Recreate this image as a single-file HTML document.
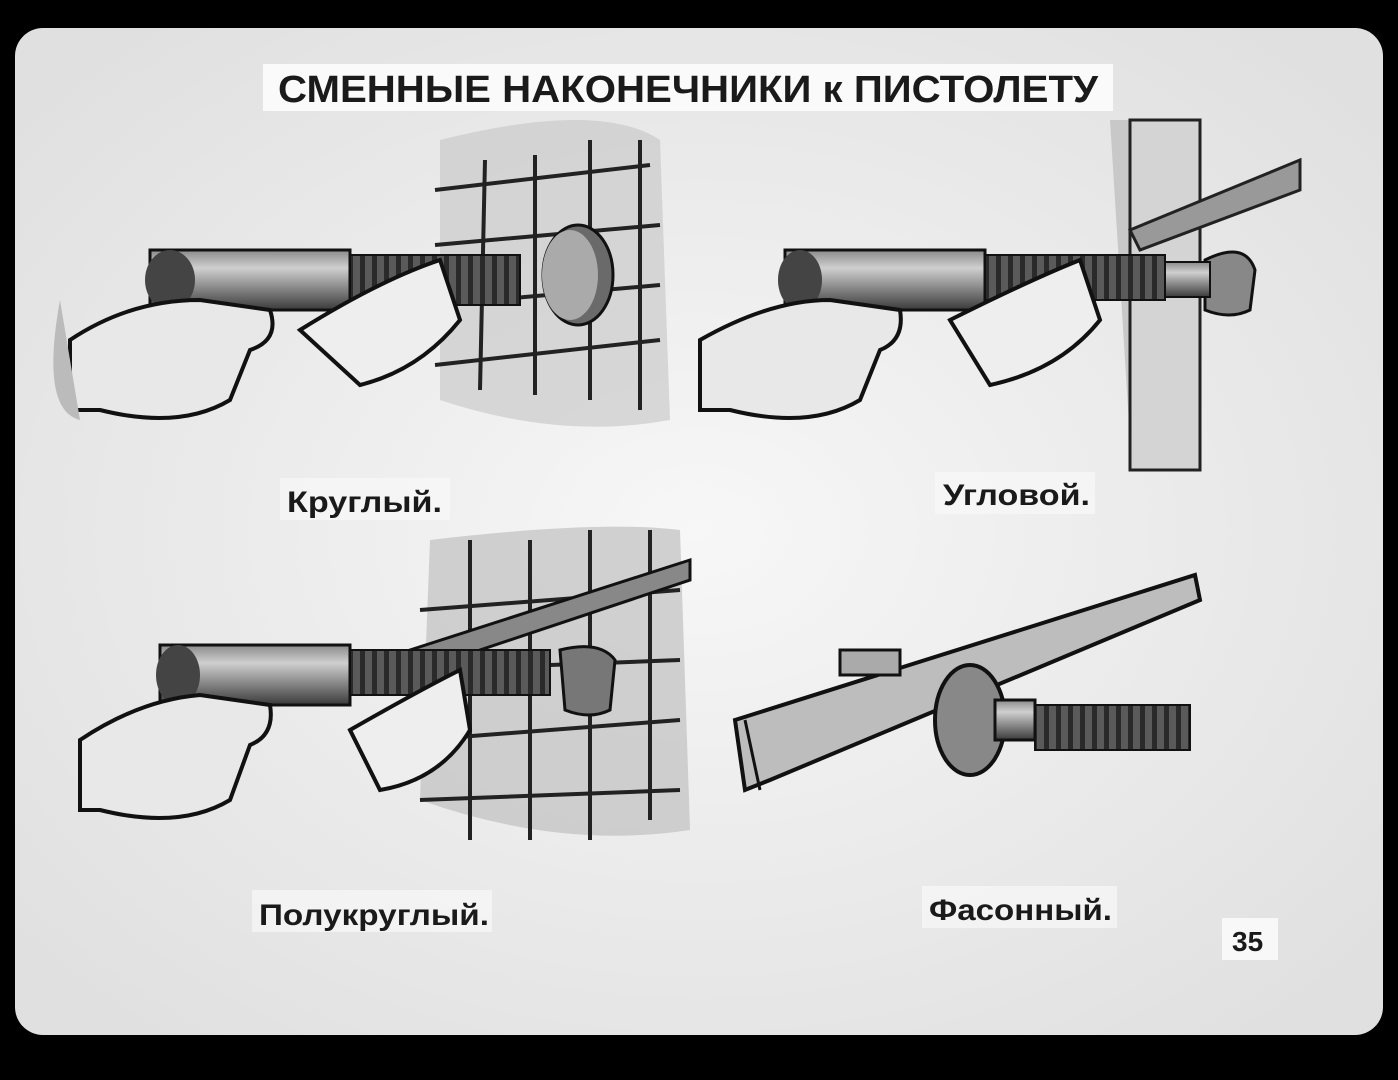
<!DOCTYPE html>
<html><head><meta charset="utf-8"><style>
html,body{margin:0;padding:0;background:#000;width:1398px;height:1080px;overflow:hidden}
svg{display:block}
text{font-family:"Liberation Sans","DejaVu Sans",sans-serif;font-weight:bold;fill:#1a1a1a}
</style></head><body>
<svg width="1398" height="1080" viewBox="0 0 1398 1080" xmlns="http://www.w3.org/2000/svg">
<defs>
<radialGradient id="bg" cx="50%" cy="50%" r="65%">
<stop offset="0" stop-color="#f7f7f7"/><stop offset="1" stop-color="#e0e0e0"/></radialGradient>
<linearGradient id="cyl" x1="0" y1="0" x2="0" y2="1">
<stop offset="0" stop-color="#8a8a8a"/><stop offset="0.3" stop-color="#cfcfcf"/><stop offset="0.7" stop-color="#7a7a7a"/><stop offset="1" stop-color="#3a3a3a"/></linearGradient>
<pattern id="coil" width="12" height="60" patternUnits="userSpaceOnUse"><rect width="12" height="60" fill="#5a5a5a"/><rect width="5" height="60" fill="#2a2a2a"/></pattern>
</defs>
<rect width="1398" height="1080" fill="#000"/>
<rect x="15" y="28" width="1368" height="1007" rx="28" fill="url(#bg)"/>
<rect x="263" y="64" width="850" height="47" fill="#fafafa"/>
<text x="688" y="102" font-size="38" text-anchor="middle" textLength="820" lengthAdjust="spacingAndGlyphs">СМЕННЫЕ НАКОНЕЧНИКИ к ПИСТОЛЕТУ</text>

<g>
<path d="M440 140 Q600 100 660 140 L670 420 Q560 440 440 400 Z" fill="#c4c4c4" opacity="0.6"/>
<g stroke="#222" stroke-width="4" fill="none">
<path d="M435 190 L650 165 M435 245 L660 225 M435 305 L660 285 M435 365 L660 340"/>
<path d="M485 160 L480 390 M535 155 L535 395 M590 140 L590 400 M640 140 L640 410"/>
</g>
<ellipse cx="578" cy="275" rx="35" ry="50" fill="#6a6a6a" stroke="#111" stroke-width="3"/>
<ellipse cx="570" cy="275" rx="28" ry="45" fill="#aaa"/>
<rect x="150" y="250" width="200" height="60" fill="url(#cyl)" stroke="#111" stroke-width="3"/>
<ellipse cx="170" cy="280" rx="25" ry="30" fill="#444"/>
<rect x="350" y="255" width="170" height="50" fill="url(#coil)" stroke="#111" stroke-width="2"/>
<path d="M70 340 Q130 300 200 300 L270 310 Q280 340 250 350 L230 400 Q180 430 100 410 L70 410 Z" fill="#e8e8e8" stroke="#111" stroke-width="4"/>
<path d="M60 300 L80 420 Q40 410 60 300" fill="#bbb"/>
<path d="M300 330 Q380 280 440 260 L460 320 Q420 370 360 385 Z" fill="#eee" stroke="#111" stroke-width="4"/>
</g>
<g>
<path d="M1110 120 L1200 120 L1200 470 L1130 440 Z" fill="#c8c8c8"/>
<rect x="1130" y="120" width="70" height="350" fill="#d4d4d4" stroke="#222" stroke-width="3"/>
<path d="M1130 230 L1300 160 L1300 190 L1140 250 Z" fill="#999" stroke="#222" stroke-width="3"/>
<path d="M1205 260 Q1245 240 1255 270 L1250 310 Q1230 320 1205 310 Z" fill="#888" stroke="#111" stroke-width="3"/>
<rect x="785" y="250" width="200" height="60" fill="url(#cyl)" stroke="#111" stroke-width="3"/>
<ellipse cx="800" cy="280" rx="22" ry="30" fill="#444"/>
<rect x="985" y="255" width="180" height="45" fill="url(#coil)" stroke="#111" stroke-width="2"/>
<rect x="1165" y="262" width="45" height="35" fill="url(#cyl)" stroke="#111" stroke-width="2"/>
<path d="M700 340 Q770 300 830 300 L900 310 Q905 340 880 350 L860 400 Q810 430 730 410 L700 410 Z" fill="#e8e8e8" stroke="#111" stroke-width="4"/>
<path d="M950 320 Q1030 280 1080 260 L1100 320 Q1060 370 990 385 Z" fill="#eee" stroke="#111" stroke-width="4"/>
</g>
<g>
<path d="M430 540 Q600 520 680 530 L690 830 Q560 850 420 800 Z" fill="#c0c0c0" opacity="0.7"/>
<g stroke="#222" stroke-width="4" fill="none">
<path d="M420 610 L680 590 M420 670 L680 660 M420 740 L680 720 M420 800 L680 790"/>
<path d="M470 540 L470 840 M530 540 L530 840 M590 530 L590 840 M650 530 L650 820"/>
</g>
<path d="M410 650 L690 560 L690 580 L420 670 Z" fill="#888" stroke="#111" stroke-width="3"/>
<path d="M560 650 Q600 640 615 660 L610 710 Q590 720 565 710 Z" fill="#777" stroke="#111" stroke-width="3"/>
<rect x="160" y="645" width="190" height="60" fill="url(#cyl)" stroke="#111" stroke-width="3"/>
<ellipse cx="178" cy="675" rx="22" ry="30" fill="#444"/>
<rect x="350" y="650" width="200" height="45" fill="url(#coil)" stroke="#111" stroke-width="2"/>
<path d="M80 740 Q140 700 200 695 L270 705 Q275 735 250 745 L230 800 Q180 830 100 810 L80 810 Z" fill="#e8e8e8" stroke="#111" stroke-width="4"/>
<path d="M350 730 Q420 690 460 670 L470 730 Q440 780 380 790 Z" fill="#eee" stroke="#111" stroke-width="4"/>
</g>
<g>
<path d="M735 720 L1195 575 L1200 600 L770 780 L745 790 Z" fill="#bdbdbd" stroke="#111" stroke-width="4"/>
<path d="M745 720 L760 790" stroke="#111" stroke-width="3"/>
<rect x="840" y="650" width="60" height="25" fill="#aaa" stroke="#111" stroke-width="3"/>
<ellipse cx="970" cy="720" rx="35" ry="55" fill="#888" stroke="#111" stroke-width="4"/>
<rect x="995" y="700" width="40" height="40" fill="url(#cyl)" stroke="#111" stroke-width="3"/>
<rect x="1035" y="705" width="155" height="45" fill="url(#coil)" stroke="#111" stroke-width="2"/>
</g>

<rect x="280" y="478" width="170" height="42" fill="#f8f8f8" opacity="0.7"/>
<text x="287" y="512" font-size="30" textLength="155" lengthAdjust="spacingAndGlyphs">Круглый.</text>
<rect x="935" y="472" width="160" height="42" fill="#f8f8f8" opacity="0.7"/>
<text x="943" y="505" font-size="30" textLength="147" lengthAdjust="spacingAndGlyphs">Угловой.</text>
<rect x="252" y="890" width="240" height="42" fill="#f8f8f8" opacity="0.7"/>
<text x="259" y="925" font-size="30" textLength="230" lengthAdjust="spacingAndGlyphs">Полукруглый.</text>
<rect x="922" y="886" width="195" height="42" fill="#f8f8f8" opacity="0.7"/>
<text x="929" y="920" font-size="30" textLength="183" lengthAdjust="spacingAndGlyphs">Фасонный.</text>
<rect x="1222" y="918" width="56" height="42" fill="#f8f8f8"/>
<text x="1232" y="951" font-size="28">35</text>
</svg>
</body></html>
